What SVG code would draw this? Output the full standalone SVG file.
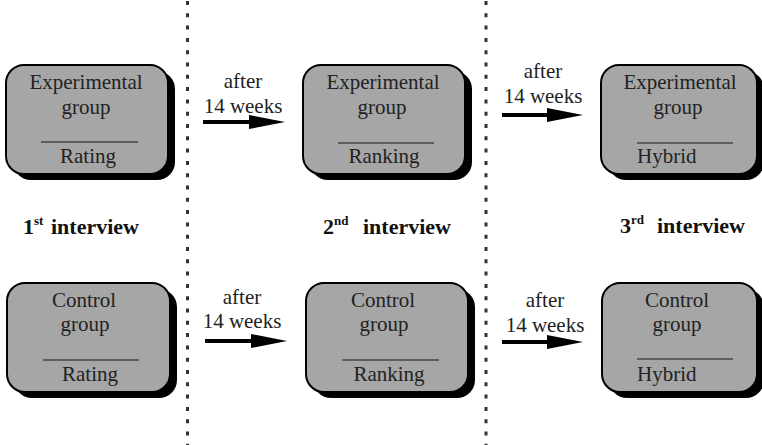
<svg xmlns="http://www.w3.org/2000/svg" width="762" height="445" viewBox="0 0 762 445">
<defs>
<style>
.sh{fill:#000}
.bx{fill:#a6a6a6;stroke:#000;stroke-width:2}
.dv{stroke:#444;stroke-width:1.5}
text{font-family:'Liberation Serif','Times New Roman',Times,'DejaVu Serif',serif}
.t{font-size:21px;fill:#222}
.c{text-anchor:middle}
.lb{font-weight:bold;font-size:22px;fill:#111}
.sup{font-size:13px}
.dot{stroke:#333;stroke-width:3;stroke-dasharray:4 8.3;fill:none}
.ar{stroke:#000;stroke-width:4;fill:none;marker-end:url(#ah)}
</style>
<marker id="ah" viewBox="0 0 36 14" markerWidth="36" markerHeight="14" refX="1" refY="7" orient="auto" markerUnits="userSpaceOnUse">
<path d="M0,0 L36,7 L0,14 Z" fill="#000"/>
</marker>
</defs>
<rect width="762" height="445" fill="#fff"/>

<g id="separators">
<line class="dot" x1="187.5" y1="1" x2="187.5" y2="445"/>
<line class="dot" x1="486" y1="1" x2="486" y2="445"/>
</g>

<g id="exp1">
<rect class="sh" x="13" y="71" width="162" height="109" rx="18"/>
<rect class="bx" x="6" y="65" width="162" height="109" rx="18"/>
<text class="t c" x="86" y="89">Experimental</text>
<text class="t c" x="86" y="114">group</text>
<line class="dv" x1="41" y1="142" x2="138" y2="142"/>
<text class="t c" x="88" y="163">Rating</text>
</g>

<g id="exp2">
<rect class="sh" x="310" y="71" width="162" height="109" rx="18"/>
<rect class="bx" x="303" y="65" width="162" height="109" rx="18"/>
<text class="t c" x="383" y="89">Experimental</text>
<text class="t c" x="382" y="114">group</text>
<line class="dv" x1="338" y1="143" x2="434" y2="143"/>
<text class="t c" x="384" y="163">Ranking</text>
</g>

<g id="exp3">
<rect class="sh" x="608" y="71" width="156" height="109" rx="18"/>
<rect class="bx" x="601" y="65" width="156" height="109" rx="18"/>
<text class="t c" x="680" y="89">Experimental</text>
<text class="t c" x="678" y="114">group</text>
<line class="dv" x1="637" y1="143" x2="733" y2="143"/>
<text class="t" x="637" y="163">Hybrid</text>
</g>

<g id="ctl1">
<rect class="sh" x="14" y="289" width="163" height="109" rx="18"/>
<rect class="bx" x="7" y="283" width="163" height="109" rx="18"/>
<text class="t c" x="84" y="307">Control</text>
<text class="t c" x="85" y="331">group</text>
<line class="dv" x1="43" y1="360" x2="139" y2="360"/>
<text class="t c" x="90" y="381">Rating</text>
</g>

<g id="ctl2">
<rect class="sh" x="313" y="289" width="162" height="109" rx="18"/>
<rect class="bx" x="306" y="283" width="162" height="109" rx="18"/>
<text class="t c" x="383" y="307">Control</text>
<text class="t c" x="384" y="331">group</text>
<line class="dv" x1="342" y1="360" x2="439" y2="360"/>
<text class="t c" x="389" y="381">Ranking</text>
</g>

<g id="ctl3">
<rect class="sh" x="609" y="289" width="155" height="109" rx="18"/>
<rect class="bx" x="602" y="283" width="155" height="109" rx="18"/>
<text class="t c" x="677" y="307">Control</text>
<text class="t c" x="677" y="331">group</text>
<line class="dv" x1="637" y1="359" x2="733" y2="359"/>
<text class="t" x="637" y="381">Hybrid</text>
</g>

<g id="connectors">
<line class="ar" x1="203" y1="122" x2="250" y2="122"/>
<line class="ar" x1="502" y1="115" x2="548" y2="115"/>
<line class="ar" x1="205" y1="341" x2="252" y2="341"/>
<line class="ar" x1="502" y1="342" x2="548" y2="342"/>
<text class="t c" x="243" y="88">after</text>
<text class="t c" x="243" y="113">14 weeks</text>
<text class="t c" x="543" y="78">after</text>
<text class="t c" x="543" y="103">14 weeks</text>
<text class="t c" x="242" y="304">after</text>
<text class="t c" x="242" y="328">14 weeks</text>
<text class="t c" x="545" y="307">after</text>
<text class="t c" x="545" y="332">14 weeks</text>
</g>

<g id="labels">
<text class="lb" x="23" y="234">1<tspan class="sup" dy="-9">st</tspan><tspan x="51" dy="9">interview</tspan></text>
<text class="lb" x="323" y="234">2<tspan class="sup" dy="-9">nd</tspan><tspan x="363" dy="9">interview</tspan></text>
<text class="lb" x="620" y="233">3<tspan class="sup" dy="-9">rd</tspan><tspan x="657" dy="9">interview</tspan></text>
</g>
</svg>
